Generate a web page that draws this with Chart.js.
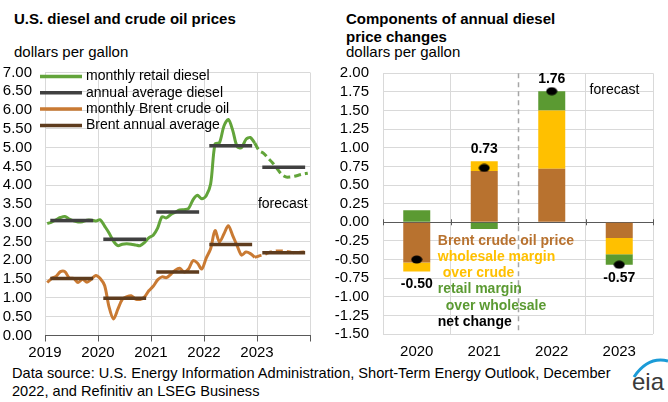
<!DOCTYPE html>
<html>
<head>
<meta charset="utf-8">
<script src="https://cdn.jsdelivr.net/npm/chart.js@4.4.0/dist/chart.umd.min.js"></script>
<style>
  body { margin: 0; width: 668px; height: 402px; background: #fff; position: relative; overflow: hidden;
         font-family: "Liberation Sans", Arial, sans-serif; color: #000; }
  .txt { position: absolute; white-space: nowrap; line-height: 18px; }
  .title { font-weight: bold; font-size: 15px; }
  .unit { font-size: 15px; }
  .src { font-size: 14.6px; }
  canvas { position: absolute; }
</style>
</head>
<body>
<div class="txt title" style="left:14px;top:10px">U.S. diesel and crude oil prices</div>
<div class="txt unit" style="left:14px;top:43px">dollars per gallon</div>
<div class="txt title" style="left:346px;top:10px">Components of annual diesel<br>price changes</div>
<div class="txt unit" style="left:346px;top:43px">dollars per gallon</div>
<div class="txt src" style="left:12px;top:364px">Data source: U.S. Energy Information Administration, Short-Term Energy Outlook, December<br>2022, and Refinitiv an LSEG Business</div>
<svg style="position:absolute;left:0;top:0" width="668" height="402">
  <path d="M634 377 Q648 356 668 361" stroke="#1b9bd7" stroke-width="3" fill="none"/>
</svg>
<div class="txt" style="left:632px;top:370px;font-size:24px;line-height:24px;color:#3a3a3a">eia</div>

<canvas id="left" width="322" height="310" style="left:0;top:60px"></canvas>
<canvas id="right" width="338" height="310" style="left:330px;top:60px"></canvas>

<script>
// left chart data
const years = ['2019', '2020', '2021', '2022', '2023'];
const dieselMonthly = [
  2.98, 3.02, 3.08, 3.14, 3.17, 3.10, 3.05, 3.02, 3.03, 3.07, 3.07, 3.05,
  3.08, 2.91, 2.73, 2.51, 2.39, 2.43, 2.44, 2.43, 2.41, 2.39, 2.47, 2.60,
  2.67, 2.86, 3.16, 3.13, 3.22, 3.28, 3.34, 3.35, 3.38, 3.61, 3.73, 3.64,
  3.72, 4.03, 5.10, 5.13, 5.57, 5.75, 5.46, 5.03, 5.00, 5.22, 5.27, 5.12,
  4.92, 4.85, 4.72, 4.60, 4.45, 4.30, 4.22, 4.22, 4.24, 4.27, 4.30, 4.32
];
const brentMonthly = [
  1.41, 1.52, 1.57, 1.70, 1.70, 1.53, 1.52, 1.41, 1.50, 1.42, 1.50, 1.60,
  1.52, 1.33, 0.76, 0.44, 0.70, 0.96, 1.03, 1.06, 0.97, 0.96, 1.02, 1.19,
  1.31, 1.48, 1.56, 1.54, 1.63, 1.74, 1.79, 1.69, 1.77, 1.99, 1.93, 1.77,
  2.06, 2.31, 2.79, 2.49, 2.70, 2.92, 2.66, 2.39, 2.14, 2.22, 2.18, 2.08,
  2.12, 2.15, 2.20, 2.23, 2.25, 2.25, 2.24, 2.22, 2.20, 2.21, 2.22, 2.24
];
const dieselAnnual = [3.06, 2.56, 3.29, 5.05, 4.48];
const brentAnnual = [1.52, 0.99, 1.69, 2.42, 2.20];
const forecastFrom = 47; // first month drawn dashed (Dec 2022)

// right chart data
const changeYears = ['2020', '2021', '2022', '2023'];
const brentChange = [-0.54, 0.69, 0.72, -0.21];
const wholesaleChange = [-0.12, 0.13, 0.78, -0.22];
const retailChange = [0.16, -0.09, 0.26, -0.14];
const netChange = [-0.50, 0.73, 1.76, -0.57];

const GREEN_LINE = '#62a43a', ORANGE_LINE = '#c97a33';
const DIESEL_AVG = '#404040', BRENT_AVG = '#5e3c1e';
const BROWN = '#b8722f', YELLOW = '#ffc000', GREEN = '#5b9a32';
const GRID = '#d9d9d9', AXIS = '#595959';

Chart.defaults.font.family = '"Liberation Sans", Arial, sans-serif';
Chart.defaults.font.size = 15;
Chart.defaults.color = '#000';

function monthly(arr, from, to) {
  return arr.slice(from, to + 1).map((v, j) => ({ x: from + j + 0.5, y: v }));
}
function segments(arr) {
  return arr.flatMap((v, k) => [{ x: 12 * k + 1.2, y: v }, { x: 12 * k + 10.9, y: v }, { x: 12 * k + 11.5, y: null }]);
}
// y axis: fixed width, no extra top/bottom padding for the end labels
function fitY(width) {
  return s => { s.width = width; s.paddingTop = 0; s.paddingBottom = 0; };
}

const leftExtras = {
  id: 'leftExtras',
  afterDraw(chart) {
    const { ctx, chartArea, scales } = chart;
    ctx.save();
    ctx.font = '14px "Liberation Sans", Arial, sans-serif';
    ctx.textBaseline = 'middle';
    chart.data.datasets.filter(d => d.legendRow !== undefined)
      .sort((a, b) => a.legendRow - b.legendRow)
      .forEach((d, i) => {
        const y = chartArea.top + 4 + i * 16.3;
        ctx.strokeStyle = d.borderColor;
        ctx.lineWidth = 3.5;
        ctx.beginPath();
        ctx.moveTo(chartArea.left - 5, y);
        ctx.lineTo(chartArea.left + 37, y);
        ctx.stroke();
        ctx.fillStyle = '#000';
        ctx.fillText(d.label, chartArea.left + 41, y);
      });
    ctx.fillText('forecast', scales.x.getPixelForValue(48.2), scales.y.getPixelForValue(3.5));
    ctx.restore();
  }
};

new Chart(document.getElementById('left'), {
  type: 'line',
  data: {
    datasets: [
      { label: 'annual average diesel', legendRow: 1, data: segments(dieselAnnual), borderColor: DIESEL_AVG, borderWidth: 3.5, order: 0 },
      { label: 'Brent annual average', legendRow: 3, data: segments(brentAnnual), borderColor: BRENT_AVG, borderWidth: 3.5, order: 0 },
      { label: 'monthly retail diesel', legendRow: 0, data: monthly(dieselMonthly, 0, forecastFrom), borderColor: GREEN_LINE, borderWidth: 3, tension: 0.3, order: 1 },
      { label: 'retail diesel forecast', data: monthly(dieselMonthly, forecastFrom, 59), borderColor: GREEN_LINE, borderWidth: 3, borderDash: [7, 4], tension: 0.3, order: 1 },
      { label: 'monthly Brent crude oil', legendRow: 2, data: monthly(brentMonthly, 0, forecastFrom), borderColor: ORANGE_LINE, borderWidth: 3, tension: 0.3, order: 1 },
      { label: 'Brent forecast', data: monthly(brentMonthly, forecastFrom, 59), borderColor: ORANGE_LINE, borderWidth: 3, borderDash: [7, 4], tension: 0.3, order: 1 }
    ]
  },
  options: {
    responsive: false,
    animation: false,
    spanGaps: false,
    elements: { point: { radius: 0 } },
    layout: { padding: { top: 12.5, right: 12 } },
    plugins: { legend: { display: false }, tooltip: { enabled: false } },
    scales: {
      x: {
        type: 'linear', min: 0, max: 60,
        ticks: { stepSize: 12, autoSkip: false, maxRotation: 0, padding: 2,
                 callback: v => years[v / 12] ?? '' },
        grid: { color: GRID, tickColor: AXIS, tickLength: 6 },
        border: { color: AXIS, width: 1 },
        afterFit: s => { s.height = 34.5; }
      },
      y: {
        min: 0, max: 7,
        ticks: { stepSize: 0.5, autoSkip: false, padding: 13, callback: v => v.toFixed(2) },
        grid: { color: GRID, drawTicks: false },
        border: { display: false },
        afterFit: fitY(45)
      }
    }
  },
  plugins: [leftExtras]
});

// ellipse marker for net change
const dot = document.createElement('canvas');
dot.width = 12; dot.height = 9;
const dctx = dot.getContext('2d');
dctx.fillStyle = '#000';
dctx.beginPath();
dctx.ellipse(6, 4.5, 5.5, 4, 0, 0, Math.PI * 2);
dctx.fill();

const rightLegend = [
  ['Brent crude oil price', BROWN, 0],
  ['wholesale margin', YELLOW, 0],
  ['over crude', YELLOW, 5],
  ['retail margin', GREEN, 0],
  ['over wholesale', GREEN, 8],
  ['net change', '#000', 0]
];

const rightExtras = {
  id: 'rightExtras',
  afterDatasetsDraw(chart) {
    const { ctx, chartArea, scales } = chart;
    const x = scales.x, y = scales.y;
    const zero = y.getPixelForValue(0);
    ctx.save();
    // tick marks on the zero line
    ctx.strokeStyle = AXIS;
    ctx.lineWidth = 1;
    for (let b = -0.5; b <= changeYears.length - 0.5; b++) {
      const px = Math.round(x.getPixelForValue(b)) + 0.5;
      ctx.beginPath();
      ctx.moveTo(px, zero - 3);
      ctx.lineTo(px, zero + 3);
      ctx.stroke();
    }
    // forecast separator
    const sep = Math.round(x.getPixelForValue(1.5)) + 0.5;
    ctx.strokeStyle = '#a6a6a6';
    ctx.lineWidth = 1.5;
    ctx.setLineDash([5, 4]);
    ctx.beginPath();
    ctx.moveTo(sep, chartArea.top);
    ctx.lineTo(sep, chartArea.bottom);
    ctx.stroke();
    ctx.setLineDash([]);
    // net change labels
    ctx.font = 'bold 14px "Liberation Sans", Arial, sans-serif';
    ctx.textAlign = 'center';
    ctx.textBaseline = 'middle';
    ctx.fillStyle = '#000';
    netChange.forEach((v, i) => {
      const parts = [brentChange[i], wholesaleChange[i], retailChange[i]];
      const pos = parts.filter(p => p > 0).reduce((a, b) => a + b, 0);
      const neg = parts.filter(p => p < 0).reduce((a, b) => a + b, 0);
      const py = v >= 0 ? y.getPixelForValue(pos) - 12 : y.getPixelForValue(neg) + 13;
      ctx.fillText(v.toFixed(2), x.getPixelForValue(i), py);
    });
    // legend text
    ctx.textAlign = 'left';
    const lx = chartArea.left + chartArea.width * 0.203;
    const ly = y.getPixelForValue(-0.25);
    rightLegend.forEach(([t, c, ind], i) => {
      ctx.fillStyle = c;
      ctx.fillText(t, lx + ind, ly + i * 16.2);
    });
    ctx.font = '14px "Liberation Sans", Arial, sans-serif';
    ctx.fillStyle = '#000';
    ctx.fillText('forecast', x.getPixelForValue(2.56), y.getPixelForValue(1.78));
    ctx.restore();
  }
};

new Chart(document.getElementById('right'), {
  type: 'bar',
  data: {
    labels: changeYears,
    datasets: [
      { type: 'line', label: 'net change', data: netChange, stack: 'net', showLine: false,
        pointStyle: dot, pointRadius: 5, backgroundColor: '#000', borderColor: '#000', order: 0 },
      { label: 'Brent crude oil price', data: brentChange, backgroundColor: BROWN, stack: 'c', order: 1 },
      { label: 'wholesale margin over crude', data: wholesaleChange, backgroundColor: YELLOW, stack: 'c', order: 1 },
      { label: 'retail margin over wholesale', data: retailChange, backgroundColor: GREEN, stack: 'c', order: 1 }
    ]
  },
  options: {
    responsive: false,
    animation: false,
    barPercentage: 0.4,
    categoryPercentage: 1,
    layout: { padding: { top: 13.3, right: 15 } },
    plugins: { legend: { display: false }, tooltip: { enabled: false } },
    scales: {
      x: {
        stacked: true,
        ticks: { padding: 9 },
        grid: { offset: true, drawTicks: false, color: c => c.index === 2 ? 'rgba(0,0,0,0)' : GRID },
        border: { display: false },
        afterFit: s => { s.height = 36; }
      },
      y: {
        stacked: true, min: -1.5, max: 2,
        ticks: { stepSize: 0.25, autoSkip: false, padding: 14, callback: v => v.toFixed(2) },
        grid: { drawTicks: false, color: c => c.tick.value === 0 ? AXIS : GRID },
        border: { display: false },
        afterFit: fitY(53)
      }
    }
  },
  plugins: [rightExtras]
});
</script>
</body>
</html>
